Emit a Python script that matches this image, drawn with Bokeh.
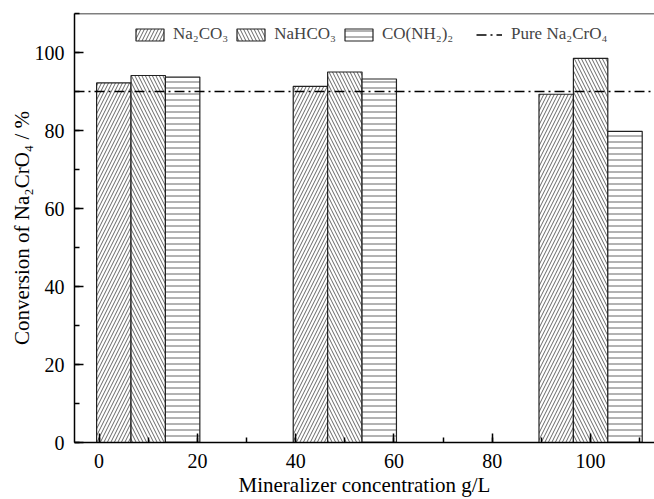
from bokeh.plotting import figure
from bokeh.models import Range1d, SingleIntervalTicker, Span, Legend, LegendItem
from bokeh.embed import file_html
from bokeh.resources import INLINE

# ---- data ----
conc = [10, 50, 100]                 # mineralizer concentration, g/L (group centres)
na2co3 = [92.2, 91.3, 89.3]
nahco3 = [94.1, 95.0, 98.5]
urea = [93.7, 93.2, 79.8]
pure_na2cro4 = 90.0
series_names = ["Na\u2082CO\u2083", "NaHCO\u2083", "CO(NH\u2082)\u2082"]
series_values = [na2co3, nahco3, urea]
pure_name = "Pure Na\u2082CrO\u2084"
x_label = "Mineralizer concentration g/L"
y_label = "Conversion of Na\u2082CrO\u2084 / %"
x_lo, x_hi = -5, 113
y_lo, y_hi = 0, 110

# ---- styles ----
offsets = [-7, 0, 7]
bar_width = 7
hatches = ["/", "\\", "-"]
hatch_scales = [7, 7, 6]
FONT = "Liberation Serif"

p = figure(width=654, height=499, x_range=Range1d(x_lo, x_hi), y_range=Range1d(y_lo, y_hi),
           output_backend="svg", toolbar_location=None,
           min_border_left=74, min_border_top=13, min_border_right=0, min_border_bottom=56)
p.outline_line_color = None
p.grid.visible = False
p.background_fill_color = "white"

renderers = []
for name, vals, off, h, hs in zip(series_names, series_values, offsets, hatches, hatch_scales):
    xs = [c + off for c in conc]
    r = p.vbar(x=xs, top=vals, width=bar_width, bottom=0,
               fill_color="white", line_color="#222222", line_width=1.2,
               hatch_pattern=h, hatch_color="#555555", hatch_weight=0.9, hatch_scale=hs)
    renderers.append((name, r))

pure_line = p.line(x=[x_lo, x_hi], y=[pure_na2cro4, pure_na2cro4], line_color="black",
                   line_width=1.5, line_dash="10 4 2 4")

# top border
p.add_layout(Span(location=y_hi, dimension="width", line_color="black", line_width=1.5))

for ax in (p.xaxis[0], p.yaxis[0]):
    ax.axis_line_width = 1.5
    ax.axis_line_color = "black"
    ax.major_tick_in = 9
    ax.major_tick_out = 0
    ax.minor_tick_in = 5
    ax.minor_tick_out = 0
    ax.major_tick_line_width = 1.5
    ax.minor_tick_line_width = 1.5
    ax.major_label_text_font = FONT
    ax.major_label_text_font_size = "20px"
    ax.major_label_text_color = "black"
    ax.axis_label_text_font = FONT
    ax.axis_label_text_font_size = "21px"
    ax.axis_label_text_font_style = "normal"
    ax.axis_label_text_color = "black"

p.xaxis.ticker = SingleIntervalTicker(interval=20, num_minor_ticks=2)
p.yaxis.ticker = SingleIntervalTicker(interval=20, num_minor_ticks=2)
p.xaxis.axis_label = x_label
p.yaxis.axis_label = y_label
p.xaxis.major_label_standoff = 11
p.xaxis.axis_label_standoff = 2
p.yaxis.major_label_standoff = 10
p.yaxis.axis_label_standoff = -2

leg = Legend(items=[LegendItem(label=n, renderers=[r]) for n, r in renderers],
             orientation="horizontal", location=(58, 398),
             glyph_width=35, glyph_height=15, label_standoff=6, spacing=5,
             padding=0, margin=0, border_line_color=None, background_fill_alpha=0,
             label_text_font=FONT, label_text_font_size="17px")
leg2 = Legend(items=[LegendItem(label=pure_name, renderers=[pure_line])],
              orientation="horizontal", location=(402, 398),
              glyph_width=26, glyph_height=15, label_standoff=9,
              padding=0, margin=0, border_line_color=None, background_fill_alpha=0,
              label_text_font=FONT, label_text_font_size="17px")
p.add_layout(leg)
p.add_layout(leg2)

open("out.html", "w").write(file_html(p, INLINE))
